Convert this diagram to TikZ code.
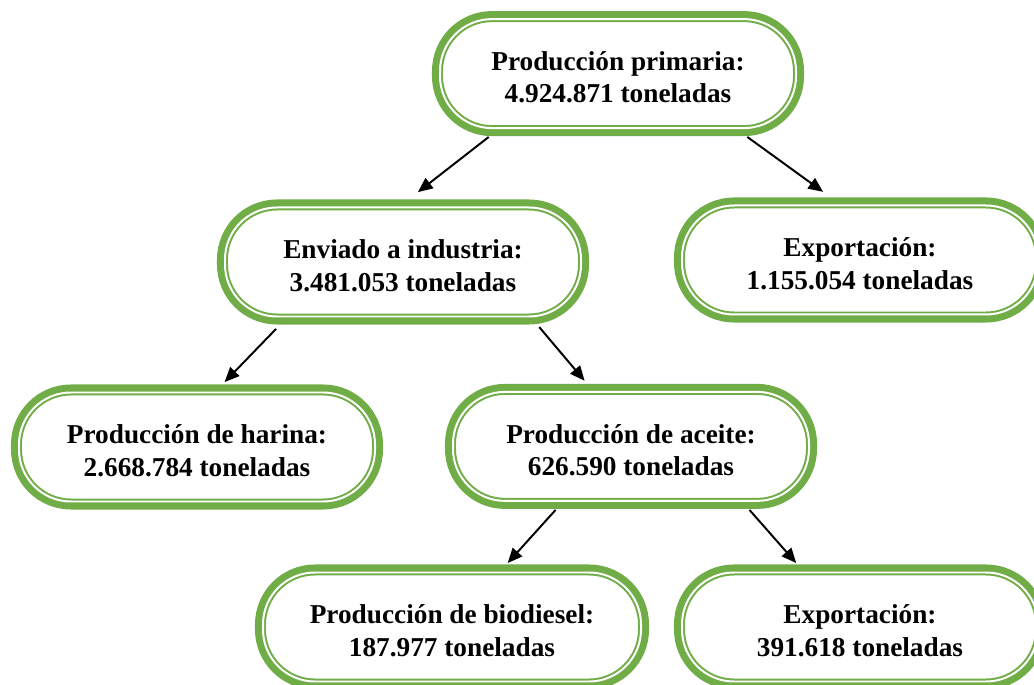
\documentclass[tikz,border=0pt]{standalone}
\usepackage{fontspec}
\setmainfont{Liberation Serif}
\usepackage{tikz}
\usetikzlibrary{arrows.meta}
\definecolor{sojagreen}{RGB}{112,173,71}

\begin{document}
\begin{tikzpicture}[auto]

%
% Styles
%
\tikzstyle{stage} = [rectangle,rounded corners=1.3cm,minimum width=8.9cm,minimum height=2.725cm,inner sep=0pt,outer sep=5.7pt,align=center,font=\fontsize{19.4}{23}\selectfont\bfseries,fill=white,draw=sojagreen,line width=1.42pt,double=white,double distance=1.42pt,preaction={draw=sojagreen,line width=11.4pt}]
\tikzstyle{flow}  = [-{Triangle[length=10.5pt,width=9pt]},line width=1.4pt,black]

\useasboundingbox (0,0) rectangle (25.85,-17.125);

\node[stage] (prim)   at (15.45,-1.84)   {\rule{0pt}{19pt}Producción primaria:\\4.924.871 toneladas};
\node[stage] (ind)    at (10.075,-6.55)  {\rule{0pt}{19pt}Enviado a industria:\\3.481.053 toneladas};
\node[stage] (expo)   at (21.5,-6.5)     {\rule{0pt}{19pt}Exportación:\\1.155.054 toneladas};
\node[stage] (harina) at (4.925,-11.175) {\rule{0pt}{19pt}Producción de harina:\\2.668.784 toneladas};
\node[stage] (aceite) at (15.775,-11.16) {\rule{0pt}{19pt}Producción de aceite:\\626.590 toneladas};
\node[stage,minimum width=9.45cm] (biod) at (11.3,-15.675) {\rule{0pt}{19pt}Producción de biodiesel:\\187.977 toneladas};
\node[stage] (expoac) at (21.5,-15.675)  {\rule{0pt}{19pt}Exportación:\\391.618 toneladas};

\draw[flow,shorten <=1pt,shorten >=8.5pt]   (prim.-154.6)  -- (ind.85.7);
\draw[flow,shorten <=1pt,shorten >=6.8pt]   (prim.-26.45)  -- (expo.115);
\draw[flow,shorten <=4.3pt,shorten >=2.4pt] (ind.-153.8)   -- (harina.68.4);
\draw[flow,shorten <=2.4pt,shorten >=2.9pt] (ind.-25.9)    -- (aceite.125.9);
\draw[flow,shorten <=1pt,shorten >=1.4pt]   (aceite.-140.2) -- (biod.49.4);
\draw[flow,shorten <=1pt,shorten >=1.4pt]   (aceite.-28.1)  -- (expoac.135.1);

\end{tikzpicture}
\end{document}
